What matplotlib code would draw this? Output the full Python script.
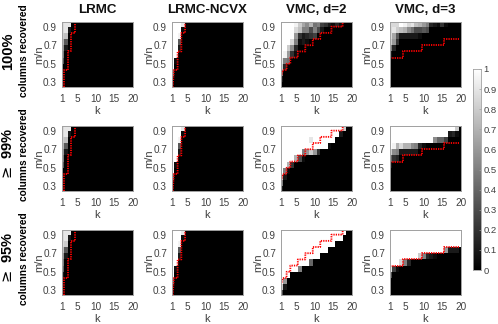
import numpy as np
import matplotlib
matplotlib.use("Agg")
import matplotlib.pyplot as plt

plt.rcParams['font.family'] = ['Liberation Sans', 'DejaVu Sans']

W, H = 498, 324
k_edges = np.arange(0.5, 21.5, 1)
mn_edges = np.array([0.967, 0.9, 0.833, 0.767, 0.7, 0.633, 0.567, 0.5, 0.433, 0.367, 0.3, 0.233])

# recovery fraction per row, top row first, columns k=1.. (missing entries are 0)
lrmc_100 = [[.85, .9, .9], [.85, .9, .1], [.8, .75], [.7, .35], [.6, .1], [.5], [.35]]
lrmc_99 = [[.85, .9, .9], [.85, .9, .1], [.8, .75], [.7, .35], [.6, .1], [.5], [.35]]
lrmc_95 = [[.85, .9, .9], [.85, .9, .1], [.85, .8], [.75, .35], [.6, .1], [.5], [.4], [.1]]
ncvx_100 = [[1, 1, 1, .9], [1, 1, 1, .05], [1, 1, .95], [1, 1, .35], [1, 1, .1], [1, 1], [1, .05], [1], [.5]]
ncvx_99 = [[1, 1, 1, .9], [1, 1, 1, .05], [1, 1, .95], [1, 1, .35], [1, 1, .1], [1, 1], [1, .05], [1], [.5]]
ncvx_95 = [[1, 1, 1, .9], [1, 1, 1, .05], [1, 1, .95], [1, 1, .35], [1, 1, .1], [1, 1], [1, .05], [1], [.5]]

d2_100 = [
    [1, 1, 1, 1, .95, .8, .65, .55, .7, .45, .5, .25, .2, .1, .05, .15, .05],
    [1, 1, 1, 1, .85, .75, .5, .5, .3, .5, .3, .1],
    [1, 1, 1, 1, .6, .2, .1, .15, .2, .25],
    [1, 1, 1, .85, .5, .05, .1, .05],
    [1, 1, .8, .55, .15],
    [1, .95, .6, .2, .05],
    [.9, .5, .45],
    [.8, .15],
    [.5],
    [.1],
]
d2_99 = [
    [1] * 17 + [.8],
    [1] * 16 + [.1],
    [1, 1, 1, 1, 1, 1, 1, 1, .9, 1, 1, 1, 1, 1, 1],
    [1] * 13 + [.05],
    [1, 1, 1, 1, 1, 1, .5, .6, .8, .6, .2],
    [1, 1, 1, 1, .7, .3, .05],
    [1, 1, .7, .2],
    [1, .5, .05],
    [.8, .1],
    [.5],
    [.1],
]
d2_95 = [
    [1] * 18,
    [1] * 17,
    [1] * 15,
    [1] * 13,
    [1] * 11,
    [1] * 8 + [.4],
    [1] * 5 + [.5],
    [1, 1, 1],
    [1, .6],
    [.8, .1],
    [.3],
]
d3_100 = [
    [.85, .85, .85, 1, .95, .85, .9, .75, .7, .6, .5, .15, .1, .05, .2, .05],
    [.85, .9, .8, .75, .7, .55, .45, .3, .3, .35, .3],
    [.85, .65, .35, .1, .1, .1, .1, .1, .05],
    [.8, .6, .2],
    [.5, .15],
    [.1],
]
d3_99 = [
    [1] * 18 + [.8],
    [1] * 16 + [.1, .15, .05],
    [1] * 12 + [.55, .4, .4, .25],
    [1, .95, .7, .85, .7, .7, .55, .5, .15, .05],
    [.8, .55, .5, .1, .1, .1, .1, .1],
    [.4, .2, .15],
    [.1],
]
d3_95 = [
    [1] * 20,
    [1] * 20,
    [1] * 20,
    [1] * 15 + [.6, .1, .1, .1],
    [1] * 8 + [.8, .5, .15, .1, .05],
    [1, 1, 1, .85, .5, .15],
    [.9, .25, .05],
    [.3],
]

# red staircases
lrmc_red_x = [1.5, 1.5, 2.5, 2.5, 3.5, 3.5, 4.5, 4.5]
lrmc_red_y = [0.25, 0.433, 0.433, 0.633, 0.633, 0.833, 0.833, 0.95]
ncvx_red_x = [1.2, 1.5, 2.5, 2.5, 3.5, 3.5, 4.5, 4.5]
ncvx_red_y = [0.25, 0.433, 0.433, 0.633, 0.633, 0.833, 0.833, 0.95]
d2_red_x = [1, 1.5, 2.5, 2.5, 3.5, 3.5, 5.5, 5.5, 7.5, 7.5, 9.5, 9.5, 11.5, 11.5, 14.5, 14.5, 17.5, 17.5]
d2_red_y = [0.36, 0.433, 0.433, 0.5, 0.5, 0.567, 0.567, 0.633, 0.633, 0.7, 0.7, 0.767, 0.767, 0.833, 0.833, 0.9, 0.9, 0.95]
d3_red_x = [1, 4.5, 4.5, 9.5, 9.5, 15.5, 15.5, 19.5]
d3_red_y = [0.567, 0.567, 0.633, 0.633, 0.7, 0.7, 0.767, 0.767]

panels = [
    [lrmc_100, ncvx_100, d2_100, d3_100],
    [lrmc_99, ncvx_99, d2_99, d3_99],
    [lrmc_95, ncvx_95, d2_95, d3_95],
]
reds = [(lrmc_red_x, lrmc_red_y), (ncvx_red_x, ncvx_red_y), (d2_red_x, d2_red_y), (d3_red_x, d3_red_y)]
titles = ["LRMC", "LRMC-NCVX", "VMC, d=2", "VMC, d=3"]
row_labels = ["100%", r"$\geq$ 99%", r"$\geq$ 95%"]
col_left = [62, 172, 281, 390]
row_top = [22, 126, 230]
ax_w, ax_h = 71, 65
frame = "#a0a0a0"
txt = "#404040"


def to_matrix(rows):
    m = np.zeros((11, 20))
    for i, r in enumerate(rows):
        m[i, :len(r)] = r
    return m


def px_axes(x, y, w, h):
    return fig.add_axes([x / W, 1 - (y + h) / H, w / W, h / H])


fig = plt.figure(figsize=(W / 100, H / 100), dpi=100)

for i, top in enumerate(row_top):
    for j, left in enumerate(col_left):
        ax = px_axes(left, top, ax_w, ax_h)
        ax.pcolormesh(k_edges, mn_edges, to_matrix(panels[i][j]), cmap="gray", vmin=0, vmax=1)
        ax.plot(reds[j][0], reds[j][1], color="red", lw=1.3, ls=(0, (0.7, 0.6)))
        ax.set_xlim(1, 20)
        ax.set_ylim(0.25, 0.95)
        ax.set_xticks([1, 5, 10, 15, 20])
        ax.set_yticks([0.3, 0.5, 0.7, 0.9])
        ax.tick_params(length=0, labelsize=7.2, labelcolor=txt)
        ax.tick_params(axis="x", pad=5)
        ax.tick_params(axis="y", pad=3.6)
        ax.set_xlabel("k", fontsize=8, color=txt)
        ax.set_ylabel("m/n", fontsize=8, color=txt)
        ax.xaxis.set_label_coords(0.5, -0.29)
        ax.yaxis.set_label_coords(-0.255, 0.5)
        for s in ax.spines.values():
            s.set_color(frame)
            s.set_linewidth(0.7)
        if i == 0:
            ax.set_title(titles[j], fontsize=9.6, fontweight="bold", color="#111111", pad=6.5)
    mid = 1 - (top + ax_h / 2 - 3.5) / H
    fig.text(8 / W, mid, row_labels[i], rotation=90, fontsize=10.5, fontweight="bold", ha="center", va="center")
    fig.text(24 / W, mid, "columns recovered", rotation=90, fontsize=7.3, fontweight="bold", ha="center", va="center")

cax = px_axes(473, 69, 8, 201)
cax.imshow(np.linspace(1, 0, 256).reshape(-1, 1), cmap="gray", aspect="auto", extent=(0, 1, 0, 1), vmin=0, vmax=1)
cax.set_xticks([])
cax.yaxis.tick_right()
cax.set_yticks(np.arange(0, 1.01, 0.1))
cax.set_yticklabels(["0", "0.1", "0.2", "0.3", "0.4", "0.5", "0.6", "0.7", "0.8", "0.9", "1"])
cax.tick_params(length=1.5, direction="in", labelsize=6.8, labelcolor=txt, color=frame, width=0.5, pad=2)
for s in cax.spines.values():
    s.set_color(frame)
    s.set_linewidth(0.6)

fig.savefig("out.png", dpi=100)
